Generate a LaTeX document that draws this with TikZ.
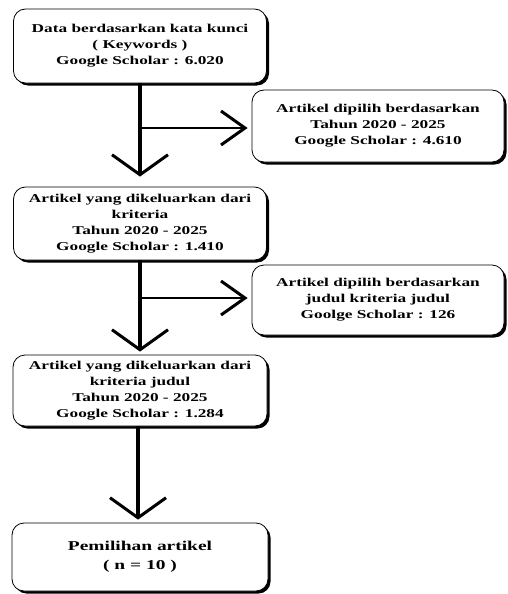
\documentclass[tikz,border=0pt]{standalone}
\usepackage{fontspec}
\newfontfamily\boxfont{Liberation Serif}[FakeStretch=1.44]
\usetikzlibrary{arrows.meta, positioning, shadows}

\begin{document}
\begin{tikzpicture}[x=1pt, y=-1pt,
    font=\boxfont\bfseries\fontsize{12}{16}\selectfont,
    box/.style={draw=black, line width=0.8pt, fill=white, rounded corners=12pt,
      align=center, inner sep=2pt,
      drop shadow={shadow xshift=2.5pt, shadow yshift=-2.5pt, fill=black, opacity=1}},
    mainline/.style={line width=3.6pt},
    sideline/.style={line width=2.4pt},
    downtip/.style={-{Straight Barb[length=20pt, width=56pt, line width=3pt]}},
    sidetip/.style={-{Straight Barb[length=24pt, width=34pt, line width=3pt]}}]

  % page size
  \useasboundingbox (0,0) rectangle (508,594);

  % x position of the main column
  \def\xMain{140}

  % Left column boxes
  \node[box, minimum width=253pt, minimum height=74pt] (data) at (\xMain,46)
        {Data berdasarkan kata kunci\\( Keywords )\\Google Scholar : 6.020};
  \node[box, minimum width=253pt, minimum height=73pt] (keluar1) at (\xMain,223.5)
        {Artikel yang dikeluarkan dari\\kriteria\\Tahun 2020 - 2025\\Google Scholar : 1.410};
  \node[box, minimum width=254pt, minimum height=71pt] (keluar2) at (\xMain,390.5)
        {Artikel yang dikeluarkan dari\\kriteria judul\\Tahun 2020 - 2025\\Google Scholar : 1.284};
  \node[box, minimum width=256pt, minimum height=68pt,
        font=\boxfont\bfseries\fontsize{13.5}{19}\selectfont] (hasil) at (\xMain,557)
        {Pemilihan artikel\\( n = 10 )};

  % Right column boxes
  \node[box, minimum width=252pt, minimum height=72pt] (pilih1) at (378,126)
        {Artikel dipilih berdasarkan\\Tahun 2020 - 2025\\Google Scholar : 4.610};
  \node[box, minimum width=252pt, minimum height=70pt] (pilih2) at (378,300)
        {Artikel dipilih berdasarkan\\judul kriteria judul\\Goolge Scholar : 126};

  % Branch points on the main line
  \coordinate (cab1) at (\xMain,128);
  \coordinate (cab2) at (\xMain,298);

  % Main flow
  \draw[mainline, downtip, shorten >=10pt] (data) -- (keluar1);
  \draw[mainline, downtip, shorten >=3pt] (keluar1) -- (keluar2);
  \draw[mainline, downtip, shorten >=3pt] ([xshift=-2pt]keluar2.south) -- ([xshift=-2pt]hasil.north);

  % Side branches
  \draw[sideline, sidetip, shorten >=4pt] (cab1) -- (cab1 -| pilih1.west);
  \draw[sideline, sidetip, shorten >=4pt] (cab2) -- (cab2 -| pilih2.west);

\end{tikzpicture}
\end{document}
